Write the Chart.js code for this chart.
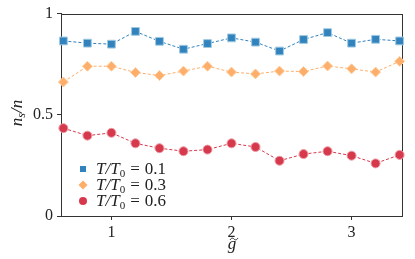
<!DOCTYPE html>
<html>
<head>
<meta charset="utf-8">
<script src="https://cdn.jsdelivr.net/npm/chart.js@4/dist/chart.umd.min.js"></script>
<style>
html, body { margin: 0; padding: 0; background: #fff; }
</style>
</head>
<body>
<canvas id="chart" width="415" height="259"></canvas>
<script>
// ---------- data ----------
const gValues = [0.6, 0.8, 1.0, 1.2, 1.4, 1.6, 1.8, 2.0, 2.2, 2.4, 2.6, 2.8, 3.0, 3.2, 3.4];
const nsT01 = [0.865, 0.854, 0.849, 0.912, 0.863, 0.824, 0.852, 0.880, 0.859, 0.815, 0.872, 0.906, 0.854, 0.873, 0.865];
const nsT03 = [0.662, 0.740, 0.740, 0.709, 0.694, 0.716, 0.740, 0.711, 0.702, 0.716, 0.714, 0.741, 0.727, 0.711, 0.764];
const nsT06 = [0.434, 0.397, 0.411, 0.359, 0.335, 0.320, 0.328, 0.359, 0.341, 0.273, 0.306, 0.320, 0.298, 0.260, 0.302];
const legendValues = ['0.1', '0.3', '0.6'];
const xTicks = [1, 2, 3];
const yTicks = [0, 0.5, 1];

const blue = '#3182bd';
const orange = '#fdae6b';
const red = '#d6394c';
const serif = '"Liberation Serif", "DejaVu Serif", serif';

function pairs(ys) {
    return gValues.map((g, i) => ({ x: g, y: ys[i] }));
}

function series(label, ys, color, edge, style, radius) {
    return {
        label: label,
        data: pairs(ys),
        borderColor: color,
        borderWidth: 1,
        borderDash: [3, 2],
        pointStyle: style,
        pointRadius: radius,
        pointBackgroundColor: color,
        pointBorderColor: edge,
        pointBorderWidth: 1,
        clip: false
    };
}

// ---------- frame, legend, axis titles ----------
const extras = {
    id: 'extras',
    beforeDatasetsDraw(chart) {
        const ctx = chart.ctx, a = chart.chartArea;
        ctx.save();
        ctx.strokeStyle = '#333';
        ctx.lineWidth = 1;
        ctx.strokeRect(Math.round(a.left) + 0.5, Math.round(a.top) + 0.5,
            Math.round(a.right - a.left), Math.round(a.bottom - a.top));
        ctx.restore();
    },
    afterDraw(chart) {
        const ctx = chart.ctx;
        ctx.save();
        ctx.fillStyle = '#222';
        ctx.textBaseline = 'alphabetic';

        // legend
        const colors = [blue, orange, red];
        const rows = [169, 185, 201];
        rows.forEach((y, i) => {
            const mx = 83;
            ctx.fillStyle = colors[i];
            ctx.beginPath();
            if (i === 0) ctx.rect(mx - 3, y - 3, 6, 6);
            else if (i === 1) { ctx.moveTo(mx, y - 4.5); ctx.lineTo(mx + 4.5, y); ctx.lineTo(mx, y + 4.5); ctx.lineTo(mx - 4.5, y); ctx.closePath(); }
            else ctx.arc(mx, y, 4, 0, Math.PI * 2);
            ctx.fill();

            ctx.fillStyle = '#222';
            let x = 96;
            const base = y + 5;
            ctx.font = 'italic 17px ' + serif;
            ctx.fillText('T/T', x, base);
            x += ctx.measureText('T/T').width;
            ctx.font = '11px ' + serif;
            ctx.fillText('0', x, base + 3);
            x += ctx.measureText('0').width + 5;
            ctx.font = '17px ' + serif;
            ctx.fillText('=', x, base);
            x += ctx.measureText('=').width + 5;
            ctx.fillText(legendValues[i], x, base);
        });

        // y title  n_s/n
        ctx.save();
        ctx.translate(22, 113);
        ctx.rotate(-Math.PI / 2);
        ctx.font = 'italic 17px ' + serif;
        const w1 = ctx.measureText('n').width;
        ctx.font = 'italic 12px ' + serif;
        const w2 = ctx.measureText('s').width;
        ctx.font = 'italic 17px ' + serif;
        const w3 = ctx.measureText('/n').width;
        let x = -(w1 + w2 + w3) / 2;
        ctx.fillText('n', x, 0);
        x += w1;
        ctx.font = 'italic 12px ' + serif;
        ctx.fillText('s', x, 3);
        x += w2;
        ctx.font = 'italic 17px ' + serif;
        ctx.fillText('/n', x, 0);
        ctx.restore();

        // x title  g with tilde
        ctx.font = 'italic 17px ' + serif;
        ctx.textAlign = 'center';
        ctx.fillText('g', 232, 249);
        ctx.strokeStyle = '#222';
        ctx.lineWidth = 1;
        ctx.beginPath();
        ctx.moveTo(230, 240);
        ctx.bezierCurveTo(231.5, 237.5, 233, 238, 234, 239);
        ctx.bezierCurveTo(235, 240, 236.5, 240.5, 238, 238);
        ctx.stroke();
        ctx.restore();
    }
};

new Chart(document.getElementById('chart'), {
    type: 'line',
    data: {
        datasets: [
            series('T/T0 = 0.1', nsT01, blue, '#9ecae1', 'rect', 5.5),
            series('T/T0 = 0.3', nsT03, orange, '#fdd0a2', 'rectRot', 5),
            series('T/T0 = 0.6', nsT06, red, '#ee9aa4', 'circle', 4.5)
        ]
    },
    options: {
        responsive: false,
        animation: false,
        layout: { padding: { left: 0, right: 13, top: 11, bottom: 0 } },
        plugins: {
            legend: { display: false },
            tooltip: { enabled: false }
        },
        scales: {
            x: {
                type: 'linear',
                min: 0.58,
                max: 3.42,
                afterBuildTicks: (scale) => { scale.ticks = xTicks.map(v => ({ value: v })); },
                afterFit: (scale) => { scale.height = 43; },
                grid: { drawOnChartArea: false, tickLength: 4, color: '#333' },
                border: { color: '#333' },
                ticks: {
                    color: '#222',
                    padding: 3,
                    font: { family: serif, size: 16 },
                    maxRotation: 0,
                    callback: (v) => String(v)
                }
            },
            y: {
                min: 0,
                max: 1,
                afterBuildTicks: (scale) => { scale.ticks = yTicks.map(v => ({ value: v })); },
                afterFit: (scale) => { scale.width = 61; },
                grid: { drawOnChartArea: false, tickLength: 4, color: '#333' },
                border: { color: '#333' },
                ticks: {
                    color: '#222',
                    padding: 4,
                    font: { family: serif, size: 16 },
                    callback: (v) => String(v)
                }
            }
        }
    },
    plugins: [extras]
});
</script>
</body>
</html>
